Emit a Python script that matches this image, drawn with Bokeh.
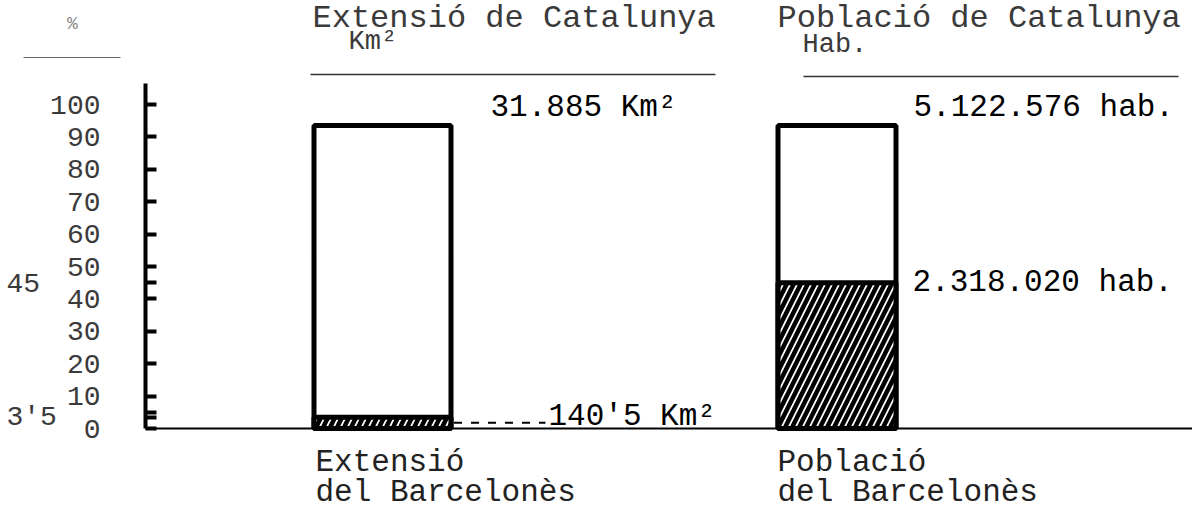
from bokeh.plotting import figure
from bokeh.models import Range1d, LinearAxis, FixedTicker
from bokeh.core.properties import value
from bokeh.embed import file_html
from bokeh.resources import INLINE

# ---------------- data ----------------
categories = ["Extensió", "Població"]
catalunya_titles = ["Extensió de Catalunya", "Població de Catalunya"]
catalunya_units = ["Km²", "Hab."]
catalunya_totals = ["31.885 Km²", "5.122.576 hab."]
catalunya_pct = [93.5, 93.5]          # height of the whole bar
barcelones_pct = [3.5, 45]            # Barcelonès share
barcelones_values = ["140'5 Km²", "2.318.020 hab."]
barcelones_first = ["Extensió", "Població"]
barcelones_second = ["del Barcelonès", "del Barcelonès"]
y_tick_values = [0, 10, 20, 30, 40, 50, 60, 70, 80, 90, 100]
marked_pct = [45, 3.5]
marked_pct_labels = ["45", "3'5"]
y_axis_title = "%"

# ---------------- layout helpers (picture pixels -> data) ----------------
W, H = 1192, 512
U = 454.5                      # px per category unit
X0 = 1 - 382 / U               # data x at the left edge of the canvas
YS = 3.24                      # px per percent


def X(px):
    return X0 + px / U


def Y(py):
    return (428 - py) / YS


xs = [i + 1 for i in range(len(categories))]
bar_widths = [137 / U, 118 / U]

p = figure(width=W, height=H, output_backend="svg", toolbar_location=None,
           x_range=Range1d(X(0), X(W)), y_range=Range1d(Y(H), Y(0)),
           x_axis_type=None, y_axis_type=None, min_border=0)
p.grid.visible = False
p.outline_line_color = None
p.background_fill_color = "white"
p.border_fill_color = "white"

FONT = value("Liberation Mono")

# y axis drawn inside the canvas
extra = [45, 5, 3.5]
yaxis = LinearAxis(fixed_location=X(145),
                   ticker=FixedTicker(ticks=y_tick_values + extra),
                   bounds=(0, Y(83)))
yaxis.major_label_overrides = {t: "" for t in extra}
yaxis.axis_line_width = 4
yaxis.axis_line_color = "black"
yaxis.major_tick_in = 11
yaxis.major_tick_out = 0
yaxis.major_tick_line_width = 4
yaxis.minor_tick_line_color = None
yaxis.major_label_standoff = 45
yaxis.major_label_text_font = "Liberation Mono"
yaxis.major_label_text_font_size = "28px"
yaxis.major_label_text_color = "#3a3a3a"
p.add_layout(yaxis, "left")

# baseline
p.segment(x0=[X(145)], y0=[0], x1=[X(1192)], y1=[0], line_color="black", line_width=2)

# bars: whole of Catalunya
p.vbar(x=xs, top=catalunya_pct, bottom=0, width=bar_widths,
       fill_color="white", line_color="black", line_width=5)
# Barcelonès share (hatched)
p.vbar(x=xs, top=barcelones_pct, bottom=0, width=bar_widths,
       fill_color="white", hatch_pattern="/", hatch_color="black",
       hatch_scale=14, hatch_weight=4.5,
       line_color="black", line_width=5)

# leader from the small band to its value
p.segment(x0=[xs[0] + bar_widths[0] / 2 + 3 / U], y0=[barcelones_pct[0] / 2],
          x1=[X(545)], y1=[barcelones_pct[0] / 2],
          line_color="black", line_width=2, line_dash="8 9")

# titles and units
p.text(x=[X(312), X(777)], y=[Y(18), Y(18)], text=catalunya_titles,
       text_font=FONT, text_font_size="32px", text_color="#3a3a3a",
       text_baseline="middle", text_align="left")
p.text(x=[X(348), X(802)], y=[Y(41), Y(44)], text=catalunya_units,
       text_font=FONT, text_font_size="27px", text_color="#3a3a3a",
       text_baseline="middle", text_align="left")
p.segment(x0=[X(310), X(803)], y0=[Y(74), Y(76)], x1=[X(715), X(1178)], y1=[Y(74), Y(76)],
          line_color="#333333", line_width=1.5)

# totals
p.text(x=[X(490), X(913)], y=[Y(107), Y(107)], text=catalunya_totals,
       text_font=FONT, text_font_size="31px", text_color="black",
       text_baseline="middle", text_align="left")

# Barcelonès values
p.text(x=[X(548)], y=[Y(416)], text=[barcelones_values[0]],
       text_font=FONT, text_font_size="31px", text_color="black",
       text_baseline="middle", text_align="left")
p.text(x=[X(912)], y=[barcelones_pct[1]], text=[barcelones_values[1]],
       text_font=FONT, text_font_size="31px", text_color="black",
       text_baseline="middle", text_align="left")

# category labels under the bars
p.text(x=[X(315), X(777)], y=[Y(462), Y(462)], text=barcelones_first,
       text_font=FONT, text_font_size="31px", text_color="#222222",
       text_baseline="middle", text_align="left")
p.text(x=[X(315), X(777)], y=[Y(492), Y(492)], text=barcelones_second,
       text_font=FONT, text_font_size="31px", text_color="#222222",
       text_baseline="middle", text_align="left")

# marked percentages at far left
p.text(x=[X(6), X(6)], y=marked_pct, text=marked_pct_labels,
       text_font=FONT, text_font_size="28px", text_color="#3a3a3a",
       text_baseline="middle", text_align="left")

# % title with its rule
p.text(x=[X(72)], y=[Y(23)], text=[y_axis_title],
       text_font=FONT, text_font_size="18px", text_color="#888888",
       text_baseline="middle", text_align="center")
p.segment(x0=[X(23)], y0=[Y(57)], x1=[X(120)], y1=[Y(57)],
          line_color="#666666", line_width=1.2)

open("out.html", "w").write(file_html(p, INLINE))
